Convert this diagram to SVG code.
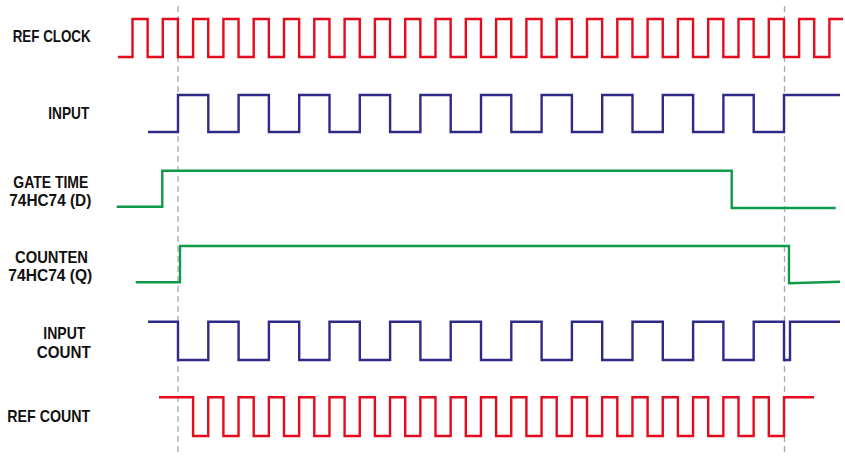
<svg xmlns="http://www.w3.org/2000/svg" width="845" height="456" viewBox="0 0 845 456">
<style>
.lbl{font-family:"Liberation Sans",Arial,sans-serif;font-weight:bold;font-size:16.5px;fill:#111;}
.sig{fill:none;stroke-width:2.4;stroke-linejoin:miter;stroke-linecap:butt;}
.red{stroke:#e30b1c;}
.navy{stroke:#2f2a85;}
.green{stroke:#0f9a48;}
.guide{stroke:#a8a8a8;stroke-width:1.3;stroke-dasharray:6,4;fill:none;}
</style>
<rect width="845" height="456" fill="#fff"/>
<g id="guides">
<line class="guide" x1="178" y1="6" x2="178" y2="452"/>
<line class="guide" x1="784.5" y1="6" x2="784.5" y2="452"/>
</g>
<g id="labels">
<text class="lbl" x="12.7" y="42" textLength="78" lengthAdjust="spacingAndGlyphs">REF CLOCK</text>
<text class="lbl" x="48.3" y="119" textLength="41" lengthAdjust="spacingAndGlyphs">INPUT</text>
<text class="lbl" x="13.3" y="187.5" textLength="75" lengthAdjust="spacingAndGlyphs">GATE TIME</text>
<text class="lbl" x="9.3" y="205.5" textLength="82" lengthAdjust="spacingAndGlyphs">74HC74 (D)</text>
<text class="lbl" x="15" y="262.5" textLength="73" lengthAdjust="spacingAndGlyphs">COUNTEN</text>
<text class="lbl" x="8.3" y="281" textLength="84" lengthAdjust="spacingAndGlyphs">74HC74 (Q)</text>
<text class="lbl" x="43.3" y="339" textLength="42" lengthAdjust="spacingAndGlyphs">INPUT</text>
<text class="lbl" x="36.7" y="357.5" textLength="54" lengthAdjust="spacingAndGlyphs">COUNT</text>
<text class="lbl" x="7.3" y="422" textLength="83" lengthAdjust="spacingAndGlyphs">REF COUNT</text>
</g>
<g id="connectors">
<path id="ref-clock" class="sig red" d="M118,57 H132.5
V19h15.15V57h15.15 V19h15.15V57h15.15 V19h15.15V57h15.15 V19h15.15V57h15.15 V19h15.15V57h15.15
V19h15.15V57h15.15 V19h15.15V57h15.15 V19h15.15V57h15.15 V19h15.15V57h15.15 V19h15.15V57h15.15
V19h15.15V57h15.15 V19h15.15V57h15.15 V19h15.15V57h15.15 V19h15.15V57h15.15 V19h15.15V57h15.15
V19h15.15V57h15.15 V19h15.15V57h15.15 V19h15.15V57h15.15 V19h15.15V57h15.15 V19h15.15V57h15.15
V19h15.15V57h15.15 V19h15.15V57h15.15 V19h15.15V57h15.15
V19H843"/>
<path id="input" class="sig navy" d="M148,132 H178
V95h30.3V132h30.3 V95h30.3V132h30.3 V95h30.3V132h30.3 V95h30.3V132h30.3 V95h30.3V132h30.3
V95h30.3V132h30.3 V95h30.3V132h30.3 V95h30.3V132h30.3 V95h30.3V132h30.3 V95h30.3V132h30.3
V95H840"/>
<path id="gate-time" class="sig green" d="M116.7,206.7 H162.3 V170.7 H731.7 V208 H835.7"/>
<path id="counten" class="sig green" d="M135.7,282.3 H180 V246 H789 V283.3 L840,281.7"/>
<path id="input-count" class="sig navy" d="M148,321.7 H178
V360h30.3V321.7h30.3 V360h30.3V321.7h30.3 V360h30.3V321.7h30.3 V360h30.3V321.7h30.3 V360h30.3V321.7h30.3
V360h30.3V321.7h30.3 V360h30.3V321.7h30.3 V360h30.3V321.7h30.3 V360h30.3V321.7h30.3 V360h30.3V321.7h30.3
V360h6V321.7H840"/>
<path id="ref-count" class="sig red" d="M159,397.3 H193.1
V436h15.15V397.3h15.15 V436h15.15V397.3h15.15 V436h15.15V397.3h15.15 V436h15.15V397.3h15.15 V436h15.15V397.3h15.15
V436h15.15V397.3h15.15 V436h15.15V397.3h15.15 V436h15.15V397.3h15.15 V436h15.15V397.3h15.15 V436h15.15V397.3h15.15
V436h15.15V397.3h15.15 V436h15.15V397.3h15.15 V436h15.15V397.3h15.15 V436h15.15V397.3h15.15 V436h15.15V397.3h15.15
V436h15.15V397.3h15.15 V436h15.15V397.3h15.15 V436h15.15V397.3h15.15 V436h15.15V397.3h15.15
V436H784V397.3H814"/>
</g>
</svg>
